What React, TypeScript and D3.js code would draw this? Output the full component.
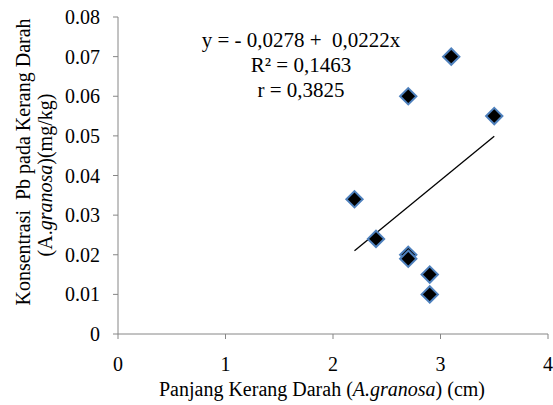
import React from "react";
import * as d3 from "d3";

const lengthCm = [2.2, 2.4, 2.7, 2.7, 2.7, 2.9, 2.9, 3.1, 3.5];
const pbConc = [0.034, 0.024, 0.06, 0.02, 0.019, 0.015, 0.01, 0.07, 0.055];
const xTicks = [0, 1, 2, 3, 4];
const yTicks = [0, 0.01, 0.02, 0.03, 0.04, 0.05, 0.06, 0.07, 0.08];
const intercept = -0.0278;
const slope = 0.0222;
const eqLines = ["y = - 0,0278 +  0,0222x", "R² = 0,1463", "r = 0,3825"];

export default function App() {
  const W = 553, H = 405;
  const x = d3.scaleLinear().domain([0, 4]).range([118, 548]);
  const y = d3.scaleLinear().domain([0, 0.08]).range([334, 17]);
  const font = "'Liberation Serif', 'Times New Roman', serif";
  const axisColor = "#868686";
  const fs = 20;
  const xMin = d3.min(lengthCm)!, xMax = d3.max(lengthCm)!;
  const line = d3.line<number>().x((d) => x(d)).y((d) => y(intercept + slope * d));
  const diamond = d3.symbol().type(d3.symbolDiamond2).size(170)();
  return (
    <svg width={W} height={H} style={{ position: "absolute", left: 0, top: 0 }} fontFamily={font}>
      <rect width={W} height={H} fill="#fff" />
      {/* axes */}
      <line x1={x(0)} x2={x(4)} y1={y(0)} y2={y(0)} stroke={axisColor} strokeWidth={1} />
      <line x1={x(0)} x2={x(0)} y1={y(0)} y2={y(0.08)} stroke={axisColor} strokeWidth={1} />
      {yTicks.map((t) => (
        <g key={t}>
          <line x1={x(0) - 5} x2={x(0)} y1={y(t)} y2={y(t)} stroke={axisColor} />
          <text x={100} y={y(t) + 7} textAnchor="end" fontSize={fs} fill="#000">
            {t === 0 ? "0" : t.toFixed(2)}
          </text>
        </g>
      ))}
      {xTicks.map((t) => (
        <g key={t}>
          <line x1={x(t)} x2={x(t)} y1={y(0)} y2={y(0) + 5} stroke={axisColor} />
          <text x={x(t)} y={371} textAnchor="middle" fontSize={fs} fill="#000">
            {t}
          </text>
        </g>
      ))}
      {/* trendline */}
      <path d={line([xMin, xMax]) || ""} stroke="#000" strokeWidth={1.3} fill="none" />
      {/* points */}
      {lengthCm.map((v, i) => (
        <path
          key={i}
          d={diamond || ""}
          transform={`translate(${x(v)},${y(pbConc[i])})`}
          fill="#000"
          stroke="#4f81bd"
          strokeWidth={2}
        />
      ))}
      {/* equation */}
      {eqLines.map((s, i) => (
        <text key={i} x={301} y={47 + i * 25} textAnchor="middle" fontSize={21} fill="#000" xmlSpace="preserve">
          {s}
        </text>
      ))}
      {/* x title */}
      <text x={322} y={396} textAnchor="middle" fontSize={fs} fill="#000" xmlSpace="preserve">
        Panjang Kerang Darah (<tspan fontStyle="italic">A.granosa</tspan>) (cm)
      </text>
      {/* y title */}
      <g transform="rotate(-90)">
        <text x={-162} y={30} textAnchor="middle" fontSize={fs} fill="#000" xmlSpace="preserve">
          Konsentrasi  Pb pada Kerang Darah
        </text>
        <text x={-175} y={52} textAnchor="middle" fontSize={fs} fill="#000">
          (A.<tspan fontStyle="italic">granosa</tspan>)(mg/kg)
        </text>
      </g>
    </svg>
  );
}
